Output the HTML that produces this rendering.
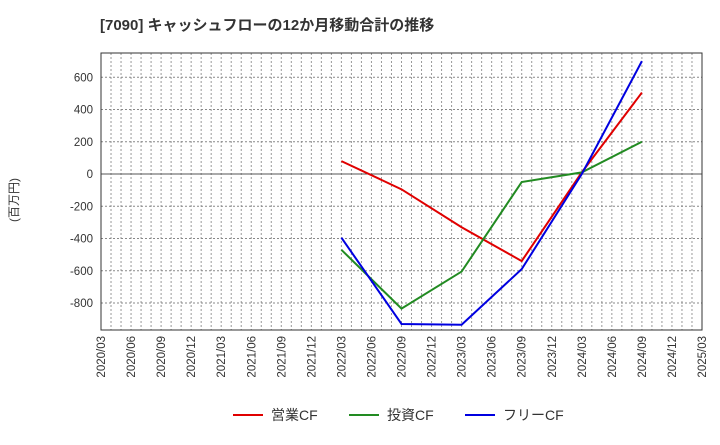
<!DOCTYPE html>
<html><head><meta charset="utf-8"><style>
body{margin:0;background:#fff;font-family:"Liberation Sans","Noto Sans CJK JP",sans-serif}
</style></head><body>
<svg id="c" width="720" height="440" xmlns="http://www.w3.org/2000/svg" font-family="Liberation Sans, Noto Sans CJK JP, sans-serif">
<text x="100" y="30" font-size="15" font-weight="bold" fill="#333">[7090]  キャッシュフローの12か月移動合計の推移</text>
<text x="18" y="200" font-size="12" fill="#333" transform="rotate(-90 18 200)" text-anchor="middle">(百万円)</text>
<g id="grid"></g><g id="axes"></g><g id="series"></g><g id="legend"></g>
</svg>
<script>
const xLabels=["2020/03","2020/06","2020/09","2020/12","2021/03","2021/06","2021/09","2021/12","2022/03","2022/06","2022/09","2022/12","2023/03","2023/06","2023/09","2023/12","2024/03","2024/06","2024/09","2024/12","2025/03"];
const yTicks=[-800,-600,-400,-200,0,200,400,600];
const pointIdx=[8,10,12,14,16,18];
const opCF=[80,-95,-330,-540,10,505];
const invCF=[-470,-835,-605,-50,10,200];
const freeCF=[-395,-930,-935,-590,0,700];
const seriesNames=["営業CF","投資CF","フリーCF"];
const L=101,R=702,T=53,B=330;
const X=i=>L+(R-L)*i/20;
const Y=v=>174-v*0.16125;
const NS="http://www.w3.org/2000/svg";
function mk(p,t,a){const e=document.createElementNS(NS,t);for(const k in a)e.setAttribute(k,a[k]);p.appendChild(e);return e;}
const g=document.getElementById('grid'),ax=document.getElementById('axes'),s=document.getElementById('series'),lg=document.getElementById('legend');
for(let m=1;m<60;m++){const l=mk(g,'line',{x1:L+(R-L)*m/60,x2:L+(R-L)*m/60,y1:T,y2:B,stroke:'#999','stroke-dasharray':'2,2','stroke-width':1});
}
yTicks.forEach(v=>{const l=mk(g,'line',{x1:L,x2:R,y1:Y(v),y2:Y(v),stroke:v==0?'#555':'#888','stroke-dasharray':v==0?'':'2,2','stroke-width':1});

const t=mk(ax,'text',{x:L-8,y:Y(v)+4,'text-anchor':'end','font-size':11.5,fill:'#333'});t.textContent=v;
});
const fr=mk(ax,'rect',{x:L,y:T,width:R-L,height:B-T,fill:'none',stroke:'#333'});

xLabels.forEach((lab,i)=>{const x=X(i);const t=mk(ax,'text',{x:x+4,y:B+6,'text-anchor':'end','font-size':11.5,fill:'#333',transform:`rotate(-90 ${x+4} ${B+6})`});t.textContent=lab;
});
const cols=['#e00000','#228b22','#0000e0'];
[opCF,invCF,freeCF].forEach((d,k)=>{const p=mk(s,'polyline',{points:d.map((v,i)=>X(pointIdx[i])+','+Y(v)).join(' '),fill:'none',stroke:cols[k],'stroke-width':2});

const lx=[233,349,465][k];
const ll=mk(lg,'line',{x1:lx,x2:lx+30,y1:415,y2:415,stroke:cols[k],'stroke-width':2});

const t=mk(lg,'text',{x:lx+38,y:420,'font-size':14,fill:'#333'});t.textContent=seriesNames[k];
});
</script>
</body></html>
